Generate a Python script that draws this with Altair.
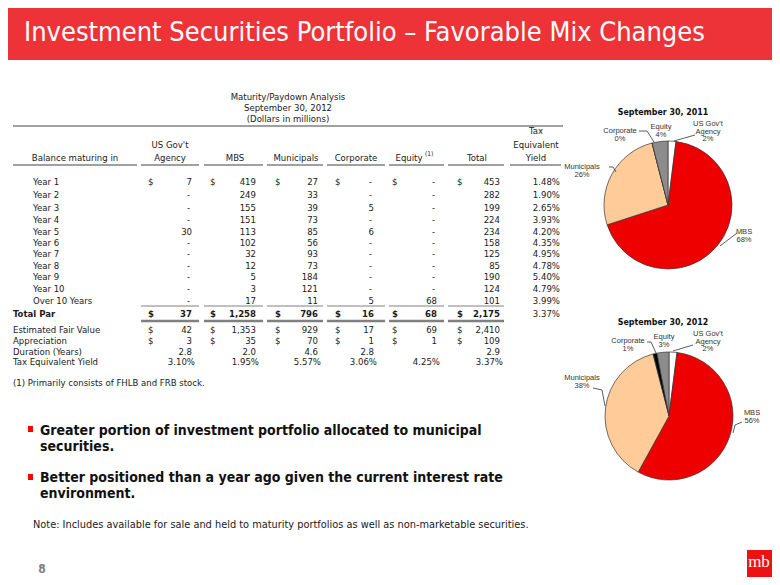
import altair as alt
import pandas as pd

# ---------------- data ----------------
slide_title = "Investment Securities Portfolio \u2013 Favorable Mix Changes"
table_title = ["Maturity/Paydown Analysis", "September 30, 2012", "(Dollars in millions)"]

row_labels = ["Year 1", "Year 2", "Year 3", "Year 4", "Year 5", "Year 6",
              "Year 7", "Year 8", "Year 9", "Year 10", "Over 10 Years"]
agency = [7, 0, 0, 0, 30, 0, 0, 0, 0, 0, 0]
mbs = [419, 249, 155, 151, 113, 102, 32, 12, 5, 3, 17]
municipals = [27, 33, 39, 73, 85, 56, 93, 73, 184, 121, 11]
corporate = [0, 0, 5, 0, 6, 0, 0, 0, 0, 0, 5]
equity = [0, 0, 0, 0, 0, 0, 0, 0, 0, 0, 68]
total = [453, 282, 199, 224, 234, 158, 125, 85, 190, 124, 101]
row_tey = [1.48, 1.90, 2.65, 3.93, 4.20, 4.35, 4.95, 4.78, 5.40, 4.79, 3.99]

total_par = [37, 1258, 796, 16, 68, 2175]
total_par_tey = 3.37
fair_value = [42, 1353, 929, 17, 69, 2410]
appreciation = [3, 35, 70, 1, 1, 109]
duration = [2.8, 2.0, 4.6, 2.8, None, 2.9]
column_tey = [3.10, 1.95, 5.57, 3.06, 4.25, 3.37]

footnote = "(1) Primarily consists of FHLB and FRB stock."
bullets = [["Greater portion of investment portfolio allocated to municipal", "securities."],
           ["Better positioned than a year ago given the current interest rate", "environment."]]
note = "Note: Includes available for sale and held to maturity portfolios as well as non-marketable securities."
page_number = "8"

pie_categories = ["US Gov't Agency", "MBS", "Municipals", "Corporate", "Equity"]
pie_label_names = ["US Gov't\nAgency", "MBS", "Municipals", "Corporate", "Equity"]
pie_2011 = [2, 68, 26, 0, 4]
pie_2012 = [2, 56, 38, 1, 3]
pie_titles = ["September 30, 2011", "September 30, 2012"]

# ---------------- layout / style ----------------
RED = "#EE3338"
TXT = "#1a1a1a"
GRID = "#808080"
FONT = "DejaVu Sans Condensed, Liberation Sans, sans-serif"
WIDE = "DejaVu Sans, Verdana, sans-serif"
pie_colors = ["#FFFFFF", "#EE0000", "#FFCC99", "#000000", "#8C8C8C"]

XS = alt.Scale(domain=[8, 772], nice=False, zero=False)
YS = alt.Scale(domain=[8, 577], nice=False, zero=False, reverse=True)

num_right = [192, 256, 318, 374, 437, 500]
dollar_left = [148, 210, 275, 335, 392, 457]
col_span = [(141, 199), (204, 263), (267, 323), (327, 385), (389, 444), (448, 504)]
tey_right = 560
row_y = [182, 195, 208, 220, 232, 243, 254, 266, 277, 289, 301]
total_y, fv_y, app_y, dur_y, tey_y = 314, 330, 341, 352, 362


def X(f="x"):
    return alt.X(f + ":Q", scale=XS, axis=None)


def Y(f="y"):
    return alt.Y(f + ":Q", scale=YS, axis=None)


def text_layer(rows, **kw):
    df = pd.DataFrame(rows, columns=["t", "x", "y"])
    props = dict(font=FONT, fontSize=9.5, color=TXT, baseline="middle", align="left")
    props.update(kw)
    return alt.Chart(df).mark_text(**props).encode(x=X(), y=Y(), text="t:N")


def rule_layer(rows, **kw):
    df = pd.DataFrame(rows, columns=["x", "x2", "y", "y2"])
    props = dict(color=GRID, strokeWidth=1)
    props.update(kw)
    return alt.Chart(df).mark_rule(**props).encode(x=X(), x2="x2:Q", y=Y(), y2="y2:Q")


def rect_layer(rows, color):
    df = pd.DataFrame(rows, columns=["x", "x2", "y", "y2"])
    return alt.Chart(df).mark_rect(color=color).encode(x=X(), x2="x2:Q", y=Y(), y2="y2:Q")


def fmt(v):
    return "-" if v == 0 else f"{v:,}"


layers = []

# header band + title
layers.append(rect_layer([(0, 780, 0, 60)], RED))
layers.append(text_layer([(slide_title, 24, 33)], fontSize=27, color="white"))

# table title
layers.append(text_layer([(t, 288, 97 + 11 * i) for i, t in enumerate(table_title)], align="center"))
layers.append(rule_layer([(13, 563, 126, 126)], strokeWidth=1.5))

# column headers
hdr = [("Balance maturing in", 75, 158), ("US Gov't", 170, 145), ("Agency", 170, 158),
       ("MBS", 235, 158), ("Municipals", 296, 158), ("Corporate", 356, 158),
       ("Equity", 409, 158), ("Total", 477, 158), ("Tax", 536, 131),
       ("Equivalent", 536, 145), ("Yield", 536, 158)]
layers.append(text_layer(hdr, align="center"))
layers.append(text_layer([("(1)", 425, 154)], fontSize=6.5))
hdr_lines = [(13, 137)] + col_span + [(510, 561)]
layers.append(rule_layer([(a, b, 165, 165) for a, b in hdr_lines], strokeWidth=1.5))

# body rows
left_rows, right_rows, pct_rows = [], [], []
cols = [agency, mbs, municipals, corporate, equity, total]
for i, lab in enumerate(row_labels):
    y = row_y[i]
    left_rows.append((lab, 33, y))
    for c, col in enumerate(cols):
        v = col[i]
        right_rows.append((fmt(v), num_right[c] - (2 if v == 0 else 0), y))
        if i == 0:
            left_rows.append(("$", dollar_left[c], y))
    pct_rows.append((f"{row_tey[i]:.2f}%", tey_right, y))

# lower block
for lab, y in [("Estimated Fair Value", fv_y), ("Appreciation", app_y),
               ("Duration (Years)", dur_y), ("Tax Equivalent Yield", tey_y)]:
    left_rows.append((lab, 13, y))
for c in range(6):
    left_rows.append(("$", dollar_left[c], fv_y))
    left_rows.append(("$", dollar_left[c], app_y))
    right_rows.append((fmt(fair_value[c]), num_right[c], fv_y))
    right_rows.append((fmt(appreciation[c]), num_right[c], app_y))
    if duration[c] is not None:
        right_rows.append((f"{duration[c]:.1f}", num_right[c], dur_y))
    pct_rows.append((f"{column_tey[c]:.2f}%", num_right[c] + 3, tey_y))
pct_rows.append((f"{total_par_tey:.2f}%", tey_right, total_y))
left_rows.append((footnote, 13, 383))

layers.append(text_layer(left_rows))
layers.append(text_layer(right_rows, align="right"))
layers.append(text_layer(pct_rows, align="right"))

# total par row (bold)
bold_rows = [("Total Par", 13, total_y)] + [("$", dollar_left[c], total_y) for c in range(6)]
layers.append(text_layer(bold_rows, fontWeight="bold"))
layers.append(text_layer([(fmt(v), num_right[c], total_y) for c, v in enumerate(total_par)],
                         align="right", fontWeight="bold"))
layers.append(rule_layer([(a, b, 306, 306) for a, b in col_span], strokeWidth=1))
layers.append(rule_layer([(a, b, 321, 321) for a, b in col_span], strokeWidth=2.5))

# bullets
layers.append(rect_layer([(28, 33, 426, 432), (28, 33, 474, 480)], "#FF0000"))
brows = []
for k, lines in enumerate(bullets):
    for j, line in enumerate(lines):
        brows.append((line, 40, [431, 478][k] + 15.5 * j))
layers.append(text_layer(brows, fontSize=14, fontWeight="bold", color="#111111"))
layers.append(text_layer([(note, 33, 525)], font=WIDE, fontSize=9.8))

# page number and logo
layers.append(text_layer([(page_number, 42, 569)], fontSize=12, fontWeight="bold", color="#7f7f7f",
                         align="center"))
layers.append(rect_layer([(747, 780, 550, 585)], "#EE1111"))
layers.append(text_layer([("mb", 759, 562)], font="Liberation Serif, DejaVu Serif, serif",
                         fontSize=17, color="white", align="center"))


# pies
def pie_layer(vals, cx, cy):
    df = pd.DataFrame({"cat": pie_categories, "v": vals, "k": list(range(len(vals))),
                       "cx": cx, "cy": cy})
    return alt.Chart(df).mark_arc(radius=64, stroke="#333333", strokeWidth=0.7).encode(
        theta=alt.Theta("v:Q", stack=True),
        order=alt.Order("k:Q"),
        color=alt.Color("cat:N", scale=alt.Scale(domain=pie_categories, range=pie_colors), legend=None),
        x=X("cx"), y=Y("cy"),
    )


pie_centers = [(668, 205), (669, 416)]
title_y = [112, 322]
label_pos = [
    [(708, 124), (744, 232), (582, 167), (620, 131), (661, 127)],
    [(708, 334), (752, 413), (582, 378), (628, 341), (664, 337)],
]
leaders = [
    [(674, 695, 141, 135), (639, 647, 131, 131), (647, 654, 131, 142), (609, 613, 167, 167),
     (613, 616, 167, 172), (737, 720, 233, 246)],
    [(673, 693, 351, 345), (647, 651, 342, 342), (651, 656, 342, 353), (593, 602, 388, 390),
     (602, 605, 390, 406), (742, 735, 422, 425), (735, 733, 425, 433)],
]
pie_layers = []
for p, vals in enumerate([pie_2011, pie_2012]):
    pie_layers.append(pie_layer(vals, *pie_centers[p]))
    lrows = []
    for c, name in enumerate(pie_label_names):
        lines = name.split("\n") + [f"{vals[c]}%"]
        x0, y0 = label_pos[p][c]
        for j, line in enumerate(lines):
            lrows.append((line, x0, y0 + 7.6 * j))
    layers.append(text_layer(lrows, fontSize=7.5, color="#333333", align="center",
                             font="Liberation Sans, sans-serif"))
    layers.append(text_layer([(pie_titles[p], 663, title_y[p])], fontSize=8.8, fontWeight="bold",
                             color="#111111", align="center"))
    layers.append(rule_layer(leaders[p], color="#333333", strokeWidth=0.8))

chart = alt.layer(*pie_layers, *layers).resolve_scale(theta="independent").properties(
    width=764, height=569, padding=0, autosize=alt.AutoSizeParams(type="none")
).configure_view(stroke=None)

chart.save("out.html", embed_options={"renderer": "svg", "actions": False})
